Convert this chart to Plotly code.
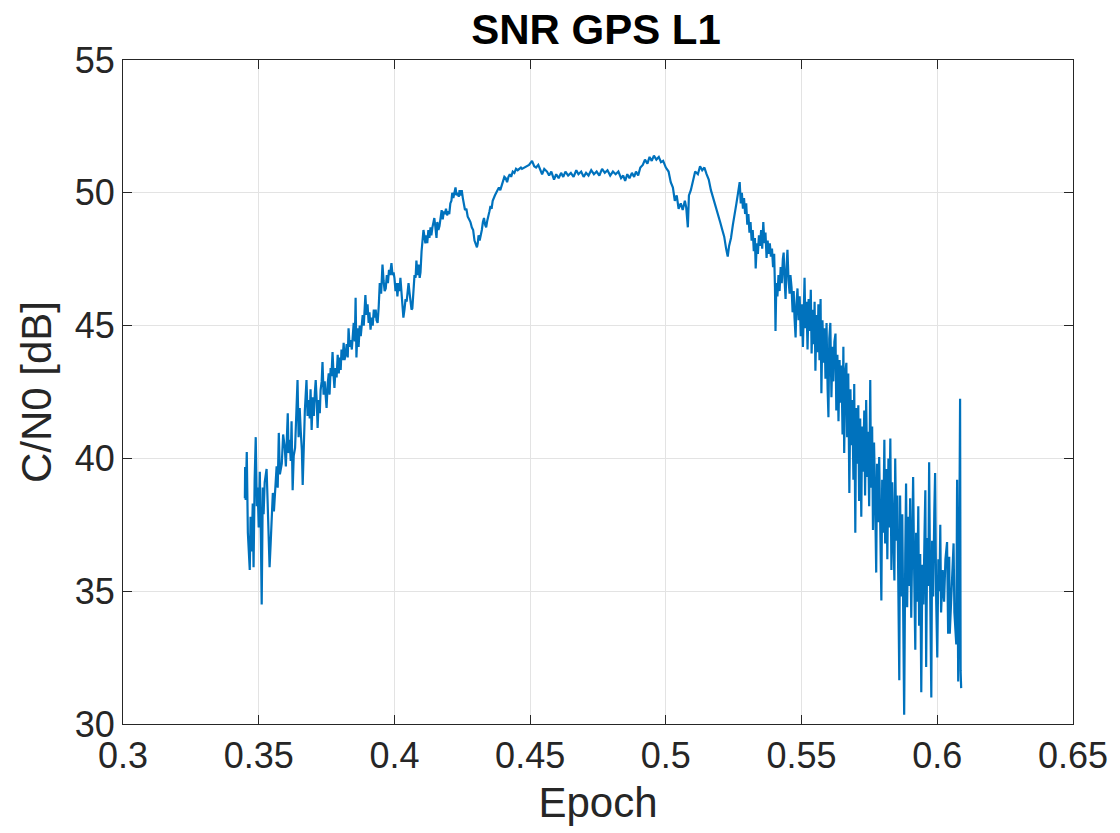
import plotly.graph_objects as go

# ---- data ----
epoch_rise = [
    0.3449, 0.3450, 0.3452, 0.3456, 0.3460, 0.3467, 0.3470, 0.3474, 0.3478, 0.3481,
    0.3485, 0.3489, 0.3493, 0.3496, 0.3500, 0.3504, 0.3508, 0.3511, 0.3515, 0.3518,
    0.3522, 0.3529, 0.3533, 0.3536, 0.3540, 0.3544, 0.3548, 0.3552, 0.3556, 0.3566,
    0.3570, 0.3574, 0.3578, 0.3585, 0.3590, 0.3596, 0.3600, 0.3607, 0.3610, 0.3614,
    0.3618, 0.3621, 0.3625, 0.3629, 0.3634, 0.3638, 0.3643, 0.3647, 0.3651, 0.3655,
    0.3659, 0.3662, 0.3666, 0.3670, 0.3676, 0.3680, 0.3684, 0.3688, 0.3691, 0.3695,
    0.3699, 0.3703, 0.3707, 0.3710, 0.3714, 0.3717, 0.3721, 0.3725, 0.3728, 0.3732,
    0.3735, 0.3739, 0.3743, 0.3747, 0.3750, 0.3754, 0.3758, 0.3761, 0.3765, 0.3768,
    0.3772, 0.3776, 0.3779, 0.3783, 0.3787, 0.3791, 0.3795, 0.3798, 0.3802, 0.3805,
    0.3809, 0.3813, 0.3816, 0.3820, 0.3824, 0.3828, 0.3831, 0.3835, 0.3839, 0.3843,
    0.3846, 0.3850, 0.3854, 0.3857, 0.3860, 0.3864, 0.3868, 0.3872, 0.3876, 0.3879,
    0.3883, 0.3887, 0.3890, 0.3893, 0.3897, 0.3901, 0.3905, 0.3908, 0.3912, 0.3916,
    0.3920, 0.3924, 0.3927, 0.3931, 0.3934, 0.3938, 0.3942, 0.3946, 0.3951, 0.3956,
    0.3960, 0.3964, 0.3968, 0.3972, 0.3976, 0.3980, 0.3984, 0.3989, 0.3993, 0.3997,
    0.4000, 0.4004, 0.4008, 0.4011, 0.4015, 0.4019, 0.4022, 0.4026, 0.4030, 0.4033,
    0.4037, 0.4041, 0.4045, 0.4049, 0.4052, 0.4056, 0.4060, 0.4063, 0.4066, 0.4070,
    0.4074, 0.4078, 0.4081, 0.4085, 0.4089, 0.4093, 0.4096, 0.4100, 0.4104, 0.4107,
    0.4110, 0.4114, 0.4118, 0.4121, 0.4125, 0.4129, 0.4133, 0.4136, 0.4140, 0.4144,
    0.4147, 0.4151, 0.4155, 0.4158, 0.4162, 0.4166, 0.4170, 0.4174, 0.4178, 0.4182,
    0.4186, 0.4190, 0.4194, 0.4198, 0.4202, 0.4206, 0.4210, 0.4213, 0.4217, 0.4221,
    0.4225, 0.4229, 0.4233, 0.4237, 0.4240, 0.4244, 0.4248, 0.4252, 0.4256, 0.4260,
    0.4265, 0.4270, 0.4275, 0.4280, 0.4285, 0.4290, 0.4295, 0.4300, 0.4304, 0.4307,
    0.4310, 0.4314, 0.4318, 0.4322, 0.4326, 0.4330, 0.4334, 0.4338, 0.4342, 0.4346,
    0.4350, 0.4354, 0.4358, 0.4362, 0.4366, 0.4370, 0.4375, 0.4380, 0.4385, 0.4390,
    0.4395, 0.4400, 0.4405, 0.4410, 0.4415, 0.4420, 0.4425, 0.4430, 0.4436, 0.4442,
    0.4448, 0.4454, 0.4460, 0.4466,
]
cn0_rise = [
    38.50, 39.68, 38.43, 40.24, 37.20, 35.80, 37.80, 36.50, 38.30, 35.90,
    39.20, 40.80, 38.20, 38.90, 37.40, 39.50, 37.00, 34.50, 38.90, 37.90,
    39.10, 39.60, 38.30, 37.10, 35.90, 36.80, 37.70, 38.70, 38.00, 39.70,
    38.90, 40.96, 39.40, 39.80, 40.90, 40.40, 39.70, 41.70, 40.20, 40.70,
    39.90, 41.40, 38.80, 40.10, 40.40, 41.40, 42.95, 40.80, 41.90, 41.00,
    40.30, 39.00, 40.60, 41.80, 42.95, 41.60, 42.20, 41.50, 42.60, 41.07,
    42.30, 41.60, 42.50, 42.95, 42.10, 41.15, 42.20, 41.70, 42.57, 42.90,
    43.63, 42.40, 42.90, 42.00, 41.90, 42.80, 43.20, 42.40, 43.40, 43.10,
    44.00, 43.10, 42.65, 43.40, 43.05, 43.90, 43.20, 43.80, 43.33, 44.10,
    43.70, 44.35, 43.70, 43.90, 44.30, 43.80, 44.90, 44.20, 44.45, 44.10,
    44.60, 45.10, 44.40, 46.05, 43.80, 44.90, 44.20, 45.00, 44.60, 44.90,
    45.40, 45.00, 45.70, 46.15, 45.40, 45.80, 45.10, 45.50, 44.85, 45.30,
    45.00, 45.60, 45.30, 45.60, 45.20, 45.10, 45.70, 46.60, 46.20, 47.30,
    46.70, 46.30, 46.40, 46.90, 46.60, 47.10, 46.90, 47.35, 46.90, 47.00,
    46.80, 46.30, 46.60, 46.10, 46.60, 46.30, 46.80, 46.20, 45.70, 45.30,
    45.60, 46.00, 45.90, 46.40, 46.60, 46.20, 45.90, 45.60, 45.65, 46.40,
    46.90, 46.80, 47.45, 46.90, 47.30, 46.80, 47.00, 47.80, 48.20, 48.60,
    48.40, 48.10, 48.40, 48.10, 48.60, 48.30, 48.70, 48.40, 48.70, 49.00,
    49.05, 48.70, 48.30, 48.90, 48.60, 48.75, 49.10, 49.35, 49.00, 49.30,
    49.20, 49.40, 49.15, 49.30, 49.20, 49.60, 49.70, 50.00, 49.80, 50.10,
    50.20, 49.90, 50.00, 49.85, 50.10, 49.90, 50.10, 49.80, 49.60, 49.35,
    49.40, 49.10, 49.00, 48.90, 48.70, 48.60, 48.20, 48.00, 47.95, 48.10,
    48.40, 48.20, 48.35, 48.60, 48.90, 49.05, 48.80, 48.70, 48.95, 49.20,
    49.30, 49.50, 49.40, 49.70, 49.85, 49.90, 50.00, 50.10, 50.20, 50.10,
    50.30, 50.50, 50.60, 50.55, 50.40, 50.60, 50.70, 50.60, 50.80, 50.75,
    50.90, 50.85, 50.90, 50.95,
]

epoch_top = [
    0.4470, 0.4496, 0.4507, 0.4515, 0.4522, 0.4530, 0.4544, 0.4552, 0.4562, 0.4570,
    0.4578, 0.4588, 0.4596, 0.4605, 0.4614, 0.4622, 0.4630, 0.4640, 0.4650, 0.4660,
    0.4670, 0.4678, 0.4688, 0.4697, 0.4706, 0.4715, 0.4725, 0.4735, 0.4745, 0.4755,
    0.4765, 0.4775, 0.4785, 0.4795, 0.4805, 0.4815, 0.4825, 0.4835, 0.4843, 0.4850,
    0.4858, 0.4866, 0.4875, 0.4883, 0.4890, 0.4898, 0.4906, 0.4915, 0.4923, 0.4932,
    0.4940, 0.4948, 0.4956, 0.4965, 0.4974, 0.4982, 0.4990, 0.5000, 0.5010, 0.5018,
    0.5026, 0.5033, 0.5040, 0.5047, 0.5055, 0.5062, 0.5070, 0.5075, 0.5081, 0.5085,
    0.5092, 0.5100, 0.5108, 0.5118, 0.5126, 0.5134, 0.5142, 0.5150, 0.5158, 0.5166,
    0.5175, 0.5184, 0.5192, 0.5200, 0.5208, 0.5215, 0.5222, 0.5228, 0.5233, 0.5240,
    0.5247, 0.5253, 0.5260, 0.5266,
]
cn0_top = [
    50.90, 51.05, 51.20, 51.00, 50.95, 51.05, 50.70, 50.90, 50.80, 50.65,
    50.80, 50.50, 50.70, 50.55, 50.75, 50.60, 50.80, 50.65, 50.75, 50.60,
    50.85, 50.70, 50.80, 50.60, 50.75, 50.65, 50.85, 50.70, 50.80, 50.65,
    50.90, 50.75, 50.85, 50.65, 50.80, 50.70, 50.80, 50.55, 50.65, 50.45,
    50.70, 50.55, 50.75, 50.60, 50.80, 50.65, 50.95, 51.05, 51.25, 51.10,
    51.35, 51.20, 51.40, 51.25, 51.35, 51.15, 51.20, 50.95, 50.80, 50.40,
    50.20, 49.70, 49.90, 49.40, 49.60, 49.35, 49.70, 49.45, 48.70, 49.90,
    50.10, 50.50, 50.80, 50.70, 51.00, 50.85, 50.95, 50.70, 50.50, 50.10,
    49.80, 49.50, 49.20, 48.90, 48.60, 48.35, 47.90, 47.60, 48.00, 48.30,
    48.80, 49.25, 49.60, 50.00,
]

epoch_fall = [
    0.5272, 0.5276, 0.5280, 0.5284, 0.5288, 0.5292, 0.5296, 0.5300, 0.5304, 0.5308,
    0.5312, 0.5316, 0.5320, 0.5324, 0.5328, 0.5331, 0.5335, 0.5339, 0.5343, 0.5347,
    0.5351, 0.5355, 0.5359, 0.5363, 0.5367, 0.5371, 0.5375, 0.5379, 0.5383, 0.5387,
    0.5391, 0.5395, 0.5399, 0.5402, 0.5404, 0.5407, 0.5411, 0.5415, 0.5419, 0.5423,
    0.5427, 0.5431, 0.5434, 0.5437, 0.5441, 0.5444, 0.5448, 0.5452, 0.5456, 0.5459,
    0.5463, 0.5467, 0.5471, 0.5474, 0.5478, 0.5481, 0.5485, 0.5489, 0.5493, 0.5497,
    0.5501, 0.5505, 0.5508, 0.5511, 0.5514, 0.5518, 0.5522, 0.5526, 0.5530, 0.5534,
    0.5537, 0.5541, 0.5545, 0.5548, 0.5551, 0.5555, 0.5559, 0.5562, 0.5566, 0.5570,
    0.5573, 0.5577, 0.5581, 0.5585, 0.5588, 0.5592, 0.5596, 0.5599, 0.5602, 0.5606,
    0.5610, 0.5614, 0.5617, 0.5621, 0.5625, 0.5628, 0.5632, 0.5636, 0.5640, 0.5643,
    0.5647, 0.5651, 0.5654, 0.5657, 0.5661, 0.5665, 0.5668, 0.5672, 0.5676, 0.5680,
    0.5683, 0.5687, 0.5691, 0.5694, 0.5698, 0.5701, 0.5705, 0.5709, 0.5712, 0.5716,
    0.5720, 0.5723, 0.5727, 0.5731, 0.5734, 0.5738, 0.5742, 0.5745, 0.5749, 0.5753,
    0.5756, 0.5760, 0.5763, 0.5767, 0.5771, 0.5775, 0.5778, 0.5782, 0.5786, 0.5790,
    0.5794, 0.5797, 0.5801, 0.5805, 0.5808, 0.5812, 0.5816, 0.5820, 0.5823, 0.5827,
    0.5831, 0.5834, 0.5838, 0.5842, 0.5845, 0.5849, 0.5853,
]
cn0_fall = [
    50.40, 49.60, 50.00, 49.40, 49.80, 49.20, 49.60, 48.80, 49.20, 48.50,
    48.90, 48.20, 48.60, 47.80, 48.30, 47.15, 48.10, 47.70, 48.40, 48.00,
    48.60, 47.90, 48.90, 48.10, 48.50, 47.55, 48.20, 47.70, 48.10, 47.60,
    47.90, 47.20, 47.70, 46.45, 44.80, 46.60, 46.10, 46.90, 46.30, 47.20,
    46.60, 47.50, 47.75, 46.80, 46.00, 47.10, 47.85, 46.70, 46.20, 46.90,
    46.45, 45.50, 46.30, 45.30, 44.55, 45.80, 46.40, 45.20, 46.10, 44.60,
    45.80, 44.20, 46.40, 46.80, 44.90, 45.90, 44.10, 46.00, 44.80, 46.35,
    43.95, 45.60, 44.30, 45.90, 43.30, 45.40, 44.00, 45.80, 43.70, 46.00,
    42.45, 45.20, 43.60, 44.90, 43.00, 45.10, 42.60, 41.55, 44.50, 45.10,
    42.30, 44.20, 42.90, 44.40, 44.70, 41.80, 43.90, 41.40, 43.70, 42.10,
    43.50, 40.90, 44.20, 40.20, 43.20, 43.60, 40.80, 43.20, 38.70, 42.60,
    40.50, 42.20, 39.20, 42.80, 37.20, 41.90, 39.80, 42.00, 38.40, 41.50,
    37.80, 41.20, 39.50, 41.80, 38.60, 42.20, 39.30, 41.00, 38.20, 42.95,
    38.90, 41.20, 37.30, 40.60, 38.50, 35.70, 39.80, 37.60, 40.05, 36.40,
    34.65, 39.20, 37.20, 40.70, 36.80, 39.60, 36.20, 40.00, 37.40, 40.75,
    35.80, 39.10, 36.60, 35.40, 40.00, 36.90, 38.60,
]

epoch_tail = [
    0.5856, 0.5860, 0.5863, 0.5867, 0.5871, 0.5875, 0.5878, 0.5882, 0.5885, 0.5889,
    0.5893, 0.5896, 0.5900, 0.5904, 0.5907, 0.5911, 0.5915, 0.5919, 0.5922, 0.5926,
    0.5930, 0.5933, 0.5937, 0.5941, 0.5945, 0.5949, 0.5953, 0.5956, 0.5959, 0.5963,
    0.5967, 0.5970, 0.5974, 0.5978, 0.5981, 0.5985, 0.5989, 0.5992, 0.5996, 0.6000,
    0.6004, 0.6008, 0.6011, 0.6014, 0.6020, 0.6025, 0.6030, 0.6036, 0.6040, 0.6044,
    0.6046, 0.6053, 0.6060, 0.6063, 0.6070, 0.6073, 0.6077, 0.6081, 0.6084, 0.6086,
    0.6088,
]
cn0_tail = [
    35.20, 31.65, 38.60, 34.80, 37.90, 33.50, 30.35, 36.40, 39.05, 34.40,
    37.80, 35.20, 38.50, 34.00, 37.20, 39.30, 35.60, 32.80, 37.20, 34.60,
    38.20, 33.70, 36.40, 31.20, 36.00, 34.50, 37.20, 38.80, 32.15, 37.00,
    35.20, 39.85, 34.80, 31.00, 36.90, 34.80, 38.00, 39.45, 34.60, 32.50,
    36.20, 35.00, 37.50, 34.20, 35.80, 34.60, 36.20, 36.85, 33.40, 36.30,
    33.40, 35.00, 36.80, 34.20, 33.00, 39.20, 31.60, 36.80, 42.25, 32.00,
    31.35,
]

x_ticks = [0.3, 0.35, 0.4, 0.45, 0.5, 0.55, 0.6, 0.65]
x_tick_labels = ["0.3", "0.35", "0.4", "0.45", "0.5", "0.55", "0.6", "0.65"]
y_ticks = [30, 35, 40, 45, 50, 55]
y_tick_labels = ["30", "35", "40", "45", "50", "55"]

epoch = epoch_rise + epoch_top + epoch_fall + epoch_tail
cn0 = cn0_rise + cn0_top + cn0_fall + cn0_tail

FONT = "Liberation Sans, Arial, Helvetica, sans-serif"
AXC = "#262626"
GRID = "#e3e3e3"

fig = go.Figure()
fig.add_trace(go.Scatter(
    x=epoch, y=cn0, mode="lines",
    line=dict(color="#0072BD", width=2.2),
    showlegend=False, hoverinfo="skip",
))

axis_common = dict(
    showline=True, linecolor=AXC, linewidth=1, mirror="ticks",
    ticks="inside", ticklen=9, tickwidth=1, tickcolor=AXC,
    showgrid=True, gridcolor=GRID, gridwidth=1, zeroline=False,
    tickfont=dict(family=FONT, size=36, color=AXC),
)

fig.update_layout(
    width=1120, height=833,
    margin=dict(l=123, r=45, t=60, b=109),
    paper_bgcolor="white", plot_bgcolor="white",
    title=dict(
        text="<b>SNR GPS L1</b>", x=596 / 1120, xanchor="center",
        y=1 - 29 / 833, yanchor="middle",
        font=dict(family=FONT, size=42, color="#000000"),
    ),
    xaxis=dict(
        range=[0.3, 0.65], tickvals=x_ticks, ticktext=x_tick_labels,
        title=dict(text="Epoch", font=dict(family=FONT, size=42, color=AXC), standoff=12),
        **axis_common,
    ),
    yaxis=dict(
        range=[30, 55], tickvals=y_ticks, ticktext=y_tick_labels,
        title=dict(text="C/N0 [dB]", font=dict(family=FONT, size=42, color=AXC), standoff=10),
        **axis_common,
    ),
)

fig.write_html("out.html")
